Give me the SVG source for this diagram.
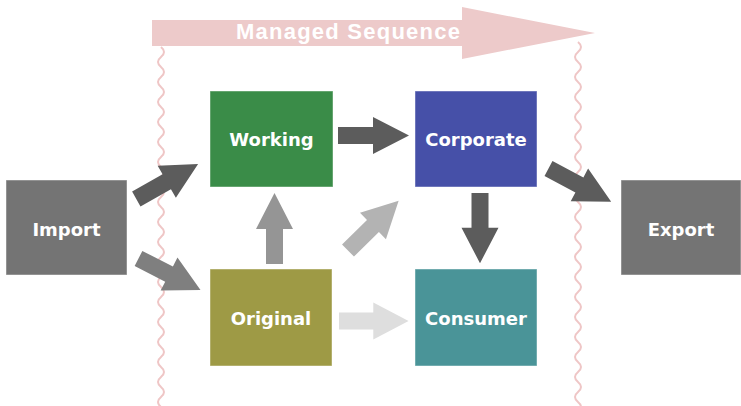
<svg xmlns="http://www.w3.org/2000/svg" width="741" height="406" viewBox="0 0 741 406">
<style>
.box{stroke:#ffffff;stroke-opacity:0.45;stroke-width:1}
.lbl{font-family:"DejaVu Sans",sans-serif;font-weight:bold;font-size:18px;fill:#ffffff;text-anchor:middle}
.wave{fill:none;stroke:#efc6c6;stroke-width:2}
</style>
<defs>
<path id="arr" d="M0,-8.5 L35,-8.5 L35,-18.5 L71,0 L35,18.5 L35,8.5 L0,8.5 Z"/>
</defs>
<rect width="741" height="406" fill="#ffffff"/>
<g id="managed-sequence">
<path d="M152,20 L462,20 L462,7 L595,33 L462,59 L462,46 L152,46 Z" fill="#edcaca"/>
<text x="236" y="38.5" textLength="224" lengthAdjust="spacing" style="font-family:'Liberation Sans',Arial,sans-serif;font-weight:bold;font-size:22px;fill:#ffffff">Managed Sequence</text>
</g>
<g id="boundaries">
<path class="wave" d="M161,47 q6,5 0,10 t0,10 t0,10 t0,10 t0,10 t0,10 t0,10 t0,10 t0,10 t0,10 t0,10 t0,10 t0,10 t0,10 t0,10 t0,10 t0,10 t0,10 t0,10 t0,10 t0,10 t0,10 t0,10 t0,10 t0,10 t0,10 t0,10 t0,10 t0,10 t0,10 t0,10 t0,10 t0,10 t0,10 t0,10 t0,10"/>
<path class="wave" d="M578,42 q6,5 0,10 t0,10 t0,10 t0,10 t0,10 t0,10 t0,10 t0,10 t0,10 t0,10 t0,10 t0,10 t0,10 t0,10 t0,10 t0,10 t0,10 t0,10 t0,10 t0,10 t0,10 t0,10 t0,10 t0,10 t0,10 t0,10 t0,10 t0,10 t0,10 t0,10 t0,10 t0,10 t0,10 t0,10 t0,10 t0,10 t0,10"/>
</g>
<g id="connectors">
<use href="#arr" fill="#5c5c5c" transform="translate(136.3,199) rotate(-29.5)"/>
<use href="#arr" fill="#7f7f7f" transform="translate(138.5,258.5) rotate(27) scale(0.98,1)"/>
<use href="#arr" fill="#5c5c5c" transform="translate(338,135.5)"/>
<use href="#arr" fill="#959595" transform="translate(274.5,264) rotate(-90)"/>
<use href="#arr" fill="#b3b3b3" transform="translate(348,250.5) rotate(-44.5)"/>
<use href="#arr" fill="#5c5c5c" transform="translate(480,193) rotate(90) scale(0.99,1)"/>
<use href="#arr" fill="#dedede" transform="translate(339,321) scale(0.98,1)"/>
<use href="#arr" fill="#5c5c5c" transform="translate(548.5,168.5) rotate(28)"/>
</g>
<g id="import">
<rect class="box" x="6" y="180" width="121" height="95" fill="#747474"/>
<text class="lbl" x="66.5" y="236">Import</text>
</g>
<g id="working">
<rect class="box" x="210" y="91" width="123" height="96" fill="#3a8c48"/>
<text class="lbl" x="271.5" y="146">Working</text>
</g>
<g id="corporate">
<rect class="box" x="415" y="91" width="122" height="96" fill="#4650a8"/>
<text class="lbl" x="476" y="146">Corporate</text>
</g>
<g id="original">
<rect class="box" x="210" y="269" width="122" height="97" fill="#9e9a45"/>
<text class="lbl" x="271" y="325">Original</text>
</g>
<g id="consumer">
<rect class="box" x="415" y="269" width="122" height="97" fill="#4a9498"/>
<text class="lbl" x="476" y="325">Consumer</text>
</g>
<g id="export">
<rect class="box" x="621" y="180" width="120" height="95" fill="#747474"/>
<text class="lbl" x="681" y="236">Export</text>
</g>
</svg>
